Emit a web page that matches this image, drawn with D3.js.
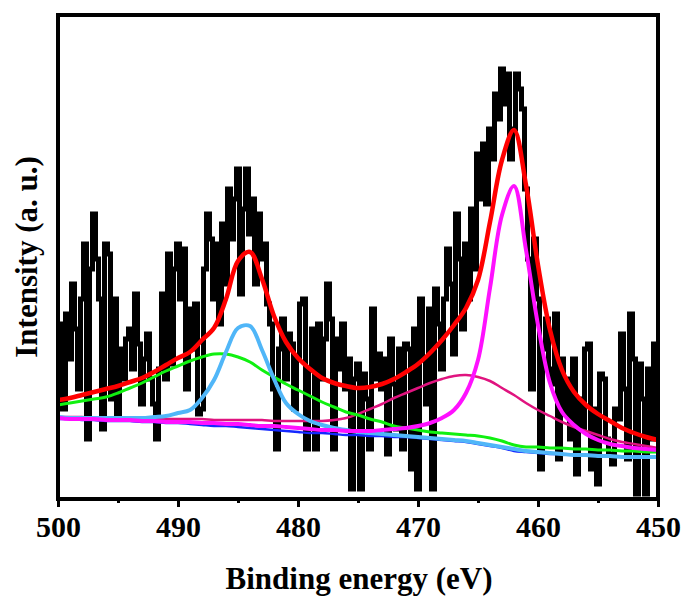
<!DOCTYPE html>
<html>
<head>
<meta charset="utf-8">
<script src="https://cdn.jsdelivr.net/npm/d3@7"></script>
<style>
  body { margin: 0; background: #fff; }
  text { font-family: "Liberation Serif", "Times New Roman", serif; font-weight: bold; }
</style>
</head>
<body>
<div id="graph"></div>
<script>
// raw spectrum, 500 -> 450 eV in 0.25 eV steps (intensity, a.u.)
var rawStart = 500, rawStep = 0.25;
var rawCounts = [
  150,175,90,185,140,215,170,110,200,
  255,60,230,285,240,200,70,255,245,100,
  200,80,150,120,160,170,130,205,155,95,140,165,120,95,60,130,
  205,120,245,135,230,255,200,250,110,190,150,195,85,
  90,230,285,260,200,255,175,275,215,310,260,300,330,205,290,
  330,265,300,215,285,240,255,195,175,110,50,150,
  180,120,165,155,90,140,195,200,50,130,170,50,175,120,160,215,180,50,160,130,
  175,110,140,10,120,135,10,125,100,50,190,120,145,110,140,45,160,115,70,150,
  50,155,150,30,170,10,200,140,95,190,10,210,175,
  130,200,250,215,145,285,240,170,255,200,290,230,345,
  300,355,295,370,340,405,380,430,395,425,340,370,425,410,
  390,310,240,110,260,200,30,150,180,130,115,185,40,
  140,85,120,60,140,25,100,70,150,155,30,90,15,125,120,60,45,
  35,90,80,165,110,40,185,140,5,135,100,5,130,60,155,120
];

// fitted curves, sampled every 1 eV from 500 to 450
var fitEnergy = d3.range(500, 449, -1);
var envelope = [99,101,104,107,110,113,117,121,127,134,141,147,159,171,200,238,247,220,183,157,
  141,130,121,116,113,111,112,115,120,127,135,146,159,174,191,219,277,339,369,314,
  234,169,129,107,94,85,78,71,66,62,59];
var peak462 = [81,80,80,80,79,79,79,78,78,77,77,77,76,76,75,75,74,73,73,72,
  71,70,69,69,68,68,68,69,70,71,73,76,81,89,106,139,211,284,313,249,
  174,116,87,74,65,59,55,53,51,50,49];
var peak466 = [82,82,82,81,81,81,81,81,80,80,80,80,80,79,79,79,79,79,78,78,
  78,78,78,79,81,85,90,95,101,106,111,116,120,123,124,122,118,111,104,96,
  89,83,77,72,68,64,60,57,55,53,51];
var peak487 = [94,96,98,100,102,106,111,116,122,128,133,138,142,145,145,142,137,129,122,115,
  109,103,97,92,87,84,80,77,73,71,69,67,66,65,64,63,61,58,54,52,
  52,51,51,50,50,49,49,48,48,47,47];
var peak484 = [82,81,81,81,81,81,81,81,82,83,86,89,101,119,147,171,173,149,120,96,
  85,78,74,71,69,67,66,65,64,63,62,61,60,59,58,56,54,52,50,48,
  47,46,45,44,44,43,43,42,42,42,42];
var background = [80,80,79,79,78,78,78,77,77,76,76,75,74,73,73,72,71,70,69,68,
  67,66,66,65,64,64,63,63,62,62,61,60,59,58,57,55,53,51,48,47,
  46,45,45,44,44,43,43,42,42,42,42];

var majorTicks = [500, 490, 480, 470, 460, 450];
var minorTicks = [495, 485, 475, 465, 455];

var w = 687,
    h = 601;
var plotL = 58, plotR = 658, plotT = 15, plotB = 499;

var vis = d3.select('#graph')
            .append('svg')
            .attr('width', w)
            .attr('height', h);

var x = d3.scaleLinear().domain([500, 450]).range([plotL, plotR]);
var y = d3.scaleLinear().domain([0, 484]).range([plotB, plotT]);

vis.append('clipPath')
    .attr('id', 'plot')
    .append('rect')
    .attr('x', plotL)
    .attr('y', plotT)
    .attr('width', plotR - plotL)
    .attr('height', plotB - plotT);

var g = vis.append('g').attr('clip-path', 'url(#plot)');

// spectrum, drawn as steps like the instrument trace
var rawLine = d3.line()
    .x(function(d, i) { return x(rawStart - i * rawStep); })
    .y(function(d) { return y(d); })
    .curve(d3.curveStep);

g.append('path')
    .datum(rawCounts)
    .attr('d', rawLine)
    .attr('fill', 'none')
    .attr('stroke', 'black')
    .attr('stroke-width', 5)
    .attr('stroke-linejoin', 'miter');

// fits
var fitLine = d3.line()
    .x(function(d, i) { return x(fitEnergy[i]); })
    .y(function(d) { return y(d); })
    .curve(d3.curveCatmullRom.alpha(0.5));

var fits = [
  {values: background, color: '#1428ff', width: 2.5},
  {values: peak466, color: '#e0137f', width: 2.5},
  {values: peak487, color: '#10f010', width: 3},
  {values: peak484, color: '#50b6f8', width: 4},
  {values: peak462, color: '#ff10ff', width: 4},
  {values: envelope, color: '#ff0000', width: 4.5}
];

g.selectAll('.fit')
    .data(fits)
    .enter()
    .append('path')
    .attr('class', 'fit')
    .attr('d', function(d) { return fitLine(d.values); })
    .attr('fill', 'none')
    .attr('stroke', function(d) { return d.color; })
    .attr('stroke-width', function(d) { return d.width; });

// axes
var major = vis.append('g')
    .attr('transform', 'translate(0,' + plotB + ')')
    .call(d3.axisBottom(x).tickValues(majorTicks).tickSize(8).tickPadding(9).tickFormat(d3.format('d')));

var minor = vis.append('g')
    .attr('transform', 'translate(0,' + plotB + ')')
    .call(d3.axisBottom(x).tickValues(minorTicks).tickSize(4).tickFormat(''));

vis.selectAll('.domain').remove();
vis.selectAll('.tick line').attr('stroke', 'black').attr('stroke-width', 3);
major.selectAll('.tick text')
    .attr('font-size', '30px')
    .attr('font-family', '"Liberation Serif", serif')
    .attr('font-weight', 'bold')
    .attr('fill', 'black');

// frame
vis.append('rect')
    .attr('x', plotL)
    .attr('y', plotT)
    .attr('width', plotR - plotL)
    .attr('height', plotB - plotT)
    .attr('fill', 'none')
    .attr('stroke', 'black')
    .attr('stroke-width', 4);

vis.append('text')
    .attr('x', 359)
    .attr('y', 589)
    .attr('text-anchor', 'middle')
    .attr('font-size', '31px')
    .text('Binding energy (eV)');

vis.append('text')
    .attr('transform', 'translate(37,' + (plotT + plotB) / 2 + ') rotate(-90)')
    .attr('text-anchor', 'middle')
    .attr('font-size', '31px')
    .text('Intensity (a. u.)');
</script>
</body>
</html>
